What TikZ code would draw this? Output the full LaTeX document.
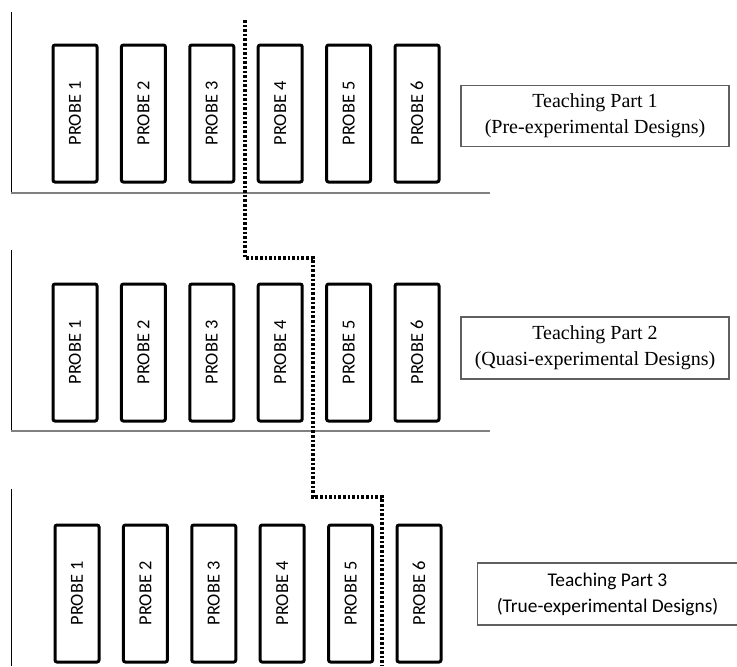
\documentclass[tikz,border=0pt]{standalone}
\usepackage{fontspec}
\usepackage{tikz}
\usetikzlibrary{positioning, calc}
\setmainfont{Liberation Serif}
\newfontfamily\probefont{Carlito}
\definecolor{framegray}{HTML}{808080}
\definecolor{boxgray}{HTML}{606060}

\begin{document}
\begin{tikzpicture}[x=0.5pt, y=-0.5pt,
    probe/.style={rectangle, rounded corners=1pt, draw=black, line width=1.5pt, rotate=90,
                  minimum width=68.5pt, minimum height=22pt, inner sep=0pt,
                  font=\probefont\fontsize{9.2}{11}\selectfont},
    part/.style={rectangle, draw=boxgray, line width=0.6pt, align=center, inner sep=0pt,
                 minimum width=134pt, minimum height=30.5pt, font=\fontsize{10}{13}\selectfont},
    axis/.style={line width=0.5pt, color=black},
    base/.style={line width=0.7pt, color=framegray},
    split/.style={line width=1.7pt, dash pattern=on 1.3pt off 1pt}
]
\useasboundingbox (0,0) rectangle (737,666);

% probe rows
\foreach \r/\y/\dx in {1/113.5/0, 2/352.5/0, 3/593.5/2}
  \foreach \i in {1,...,6}
    \node[probe] (p\r\i) at ({75+\dx+68.4*(\i-1)}, \y) {PROBE \i};

% panel frames
\draw[axis] (11,12) -- (11,193);
\draw[base] (11,193) -- (490,193);
\draw[axis] (11,250) -- (11,431);
\draw[base] (11,431) -- (490,431);
\draw[axis] (11,489) -- (11,666);

% teaching parts
\node[part] (t1) at (595,116) {Teaching Part 1\\(Pre-experimental Designs)};
\node[part, minimum height=31pt] (t2) at (595,348) {Teaching Part 2\\(Quasi-experimental Designs)};
\node[part, minimum width=130pt, minimum height=31pt,
      font=\probefont\fontsize{9.7}{13}\selectfont] (t3) at (607.5,594)
      {Teaching Part 3\\(True-experimental Designs)};

% dotted split line
\coordinate (s0) at (245,20);
\coordinate (s1) at (245,258);
\coordinate (s2) at (313,258);
\coordinate (s3) at (313,497);
\coordinate (s4) at (382,497);
\coordinate (s5) at (382,666);
\draw[split] (s0) -- (s1) -- (s2) -- (s3) -- (s4) -- (s5);
\end{tikzpicture}
\end{document}
